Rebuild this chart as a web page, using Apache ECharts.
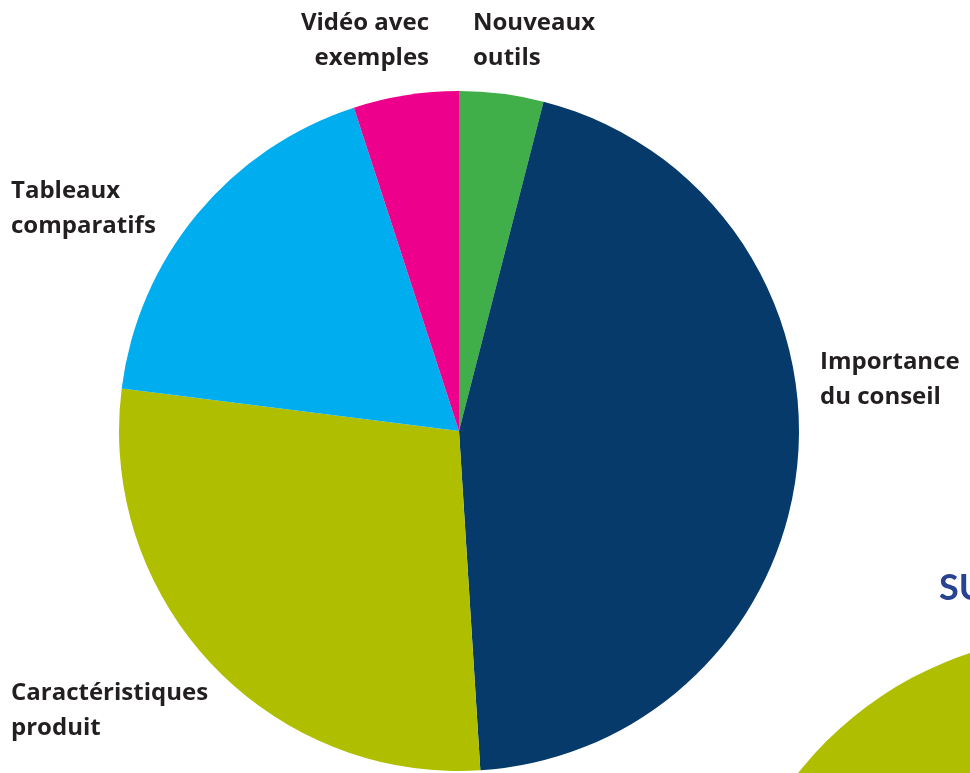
<!DOCTYPE html>
<html lang="fr">
<head>
    <meta charset="UTF-8">
    <title>Camembert</title>
    <style>
        html,body{padding:0;margin:0;background:#fff;}
        #chart{width:970px;height:773px;}
    </style>
    <script src="https://cdn.jsdelivr.net/npm/echarts@6/dist/echarts.min.js"></script>
</head>
<body>
<div id="chart"></div>
<script>
    // donnees (pourcentages)
    var categories = ['Nouveaux\noutils', 'Importance\ndu conseil', 'Caractéristiques\nproduit', 'Tableaux\ncomparatifs', 'Vidéo avec\nexemples'];
    var values = [4, 45, 28, 18, 5];
    var colors = ['#40ae49', '#053a6b', '#afbf00', '#00aeef', '#ec008c'];

    // position des etiquettes (x, y, alignement)
    var labelPos = [
        [473, 6, 'left'],
        [820, 345, 'left'],
        [11, 676, 'left'],
        [11, 174, 'left'],
        [429, 6, 'right']
    ];

    var myChart = echarts.init(document.getElementById('chart'));

    var data = [];
    for (var i = 0; i < values.length; i++) {
        data.push({value: values[i], name: categories[i], itemStyle: {color: colors[i]}});
    }

    var option = {
        backgroundColor: '#fff',
        animation: false,
        title: {
            text: 'SU',
            left: 934,
            top: 565,
            textStyle: {color: '#2a4391', fontSize: 36, fontWeight: 'bold', fontFamily: 'Lato'}
        },
        series: [
            {
                type: 'pie',
                center: [459, 431],
                radius: 340,
                startAngle: 90,
                clockwise: true,
                data: data,
                itemStyle: {borderWidth: 0},
                label: {
                    show: true,
                    formatter: '{b}',
                    color: '#231f20',
                    fontSize: 24,
                    fontWeight: 'bold',
                    fontFamily: 'Open Sans',
                    lineHeight: 35,
                    overflow: 'none'
                },
                labelLine: {show: false},
                labelLayout: function (params) {
                    var p = labelPos[params.dataIndex];
                    return {x: p[0], y: p[1], align: p[2], verticalAlign: 'top'};
                },
                emphasis: {disabled: true}
            },
            {
                type: 'pie',
                silent: true,
                center: [1083, 998],
                radius: 363,
                data: [{value: 1, name: ''}],
                itemStyle: {color: '#afbf00'},
                label: {show: false},
                labelLine: {show: false}
            }
        ]
    };
    myChart.setOption(option);
</script>
</body>
</html>
